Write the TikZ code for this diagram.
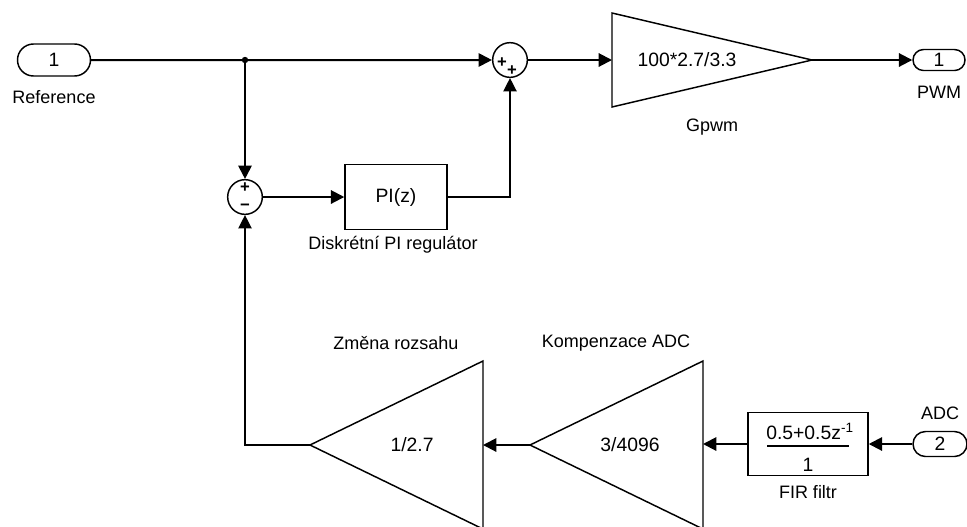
\documentclass[tikz,border=0pt]{standalone}
\usepackage{fontspec}
\setmainfont{Liberation Sans}
\usetikzlibrary{arrows.meta,shapes.misc}

\begin{document}
\begin{tikzpicture}[x=0.75pt,y=-0.75pt,
    sig/.style={line width=1.5pt,-{Triangle[length=10pt,width=10pt]}},
    thinsig/.style={line width=1pt,-{Triangle[length=10pt,width=10pt]}},
    blk/.style={draw,line width=1.1pt,inner sep=0pt,font=\fontsize{14.5}{16}\selectfont},
    port/.style={draw,rounded rectangle,line width=1.1pt,inner sep=0pt,font=\fontsize{14.5}{16}\selectfont},
    sumnode/.style={draw,circle,line width=1.1pt,minimum size=26pt,inner sep=0pt},
    sgn/.style={inner sep=0pt,font=\fontsize{12.5}{12}\selectfont\bfseries},
    gain/.style={line width=1.1pt},
    gaintxt/.style={font=\fontsize{14.5}{16}\selectfont},
    lbl/.style={font=\fontsize{13.5}{15}\selectfont}]
  \useasboundingbox (0,0) rectangle (967,526);

  % ports
  \node[port,minimum width=54.75pt,minimum height=24pt] (in1) at (54,60) {1};
  \node[lbl] (in1lbl) at (54,97) {Reference};
  \node[port,minimum width=39pt,minimum height=15.75pt] (out1) at (939,60) {1};
  \node[lbl] (out1lbl) at (939,92) {PWM};
  \node[port,minimum width=40.5pt,minimum height=18.75pt] (in2) at (940,444) {2};
  \node[lbl] (in2lbl) at (940,413) {ADC};

  % sums
  \node[sumnode] (sumb) at (245,197) {};
  \node[sgn] (sumbp) at (245,188) {+};
  \node[sgn] (sumbm) at (245,207) {−};
  \node[sumnode] (sumt) at (510,60) {};
  \node[sgn] (sumtp1) at (502,63) {+};
  \node[sgn] (sumtp2) at (512,71) {+};

  % PI regulator
  \node[blk,minimum width=76.5pt,minimum height=48.75pt] (pi) at (396,197) {PI(z)};
  \node[lbl] (pilbl) at (393,245) {Diskrétní PI regulátor};

  % gain Gpwm
  \draw[gain] (612,13) -- (812,60) -- (612,107) -- cycle;
  \coordinate (gpin) at (612,60);
  \coordinate (gpout) at (812,60);
  \node[gaintxt] (gptxt) at (687,60) {100*2.7/3.3};
  \node[lbl] (gplbl) at (712,127) {Gpwm};

  % FIR filter
  \node[blk,minimum width=90pt,minimum height=47.25pt] (fir) at (808,444) {};
  \node[gaintxt] (firnum) at (810,431) {0.5+0.5z\textsuperscript{-1}};
  \draw[line width=1pt] (767,446) -- (849,446);
  \node[gaintxt] (firden) at (808,465) {1};
  \node[lbl] (firlbl) at (808,492) {FIR filtr};

  % gain Kompenzace ADC
  \draw[gain] (703,361) -- (530,445) -- (703,529) -- cycle;
  \coordinate (kin) at (703,444);
  \coordinate (kout) at (530,445);
  \node[gaintxt] (ktxt) at (630,445) {3/4096};
  \node[lbl] (klbl) at (616,343) {Kompenzace ADC};

  % gain Zmena rozsahu
  \draw[gain] (483,361) -- (310,445) -- (483,529) -- cycle;
  \coordinate (zin) at (483,445);
  \coordinate (zout) at (310,445);
  \node[gaintxt] (ztxt) at (412,445) {1/2.7};
  \node[lbl] (zlbl) at (396,343) {Změna rozsahu};

  % signals
  \coordinate (br) at (245,60);
  \draw[sig] (in1) -- (sumt);
  \fill (br) circle (2.4pt);
  \draw[sig] (br) -- (sumb);
  \draw[sig] (sumt) -- (gpin);
  \draw[sig] (gpout) -- (out1);
  \draw[sig] (sumb) -- (pi);
  \draw[thinsig] (pi.east) -| (sumt.south);
  \draw[sig] (in2) -- (fir);
  \draw[sig] (fir.west) -- (kin);
  \draw[sig] (kout) -- (zin);
  \draw[thinsig] (zout) -| (sumb.south);
\end{tikzpicture}
\end{document}
